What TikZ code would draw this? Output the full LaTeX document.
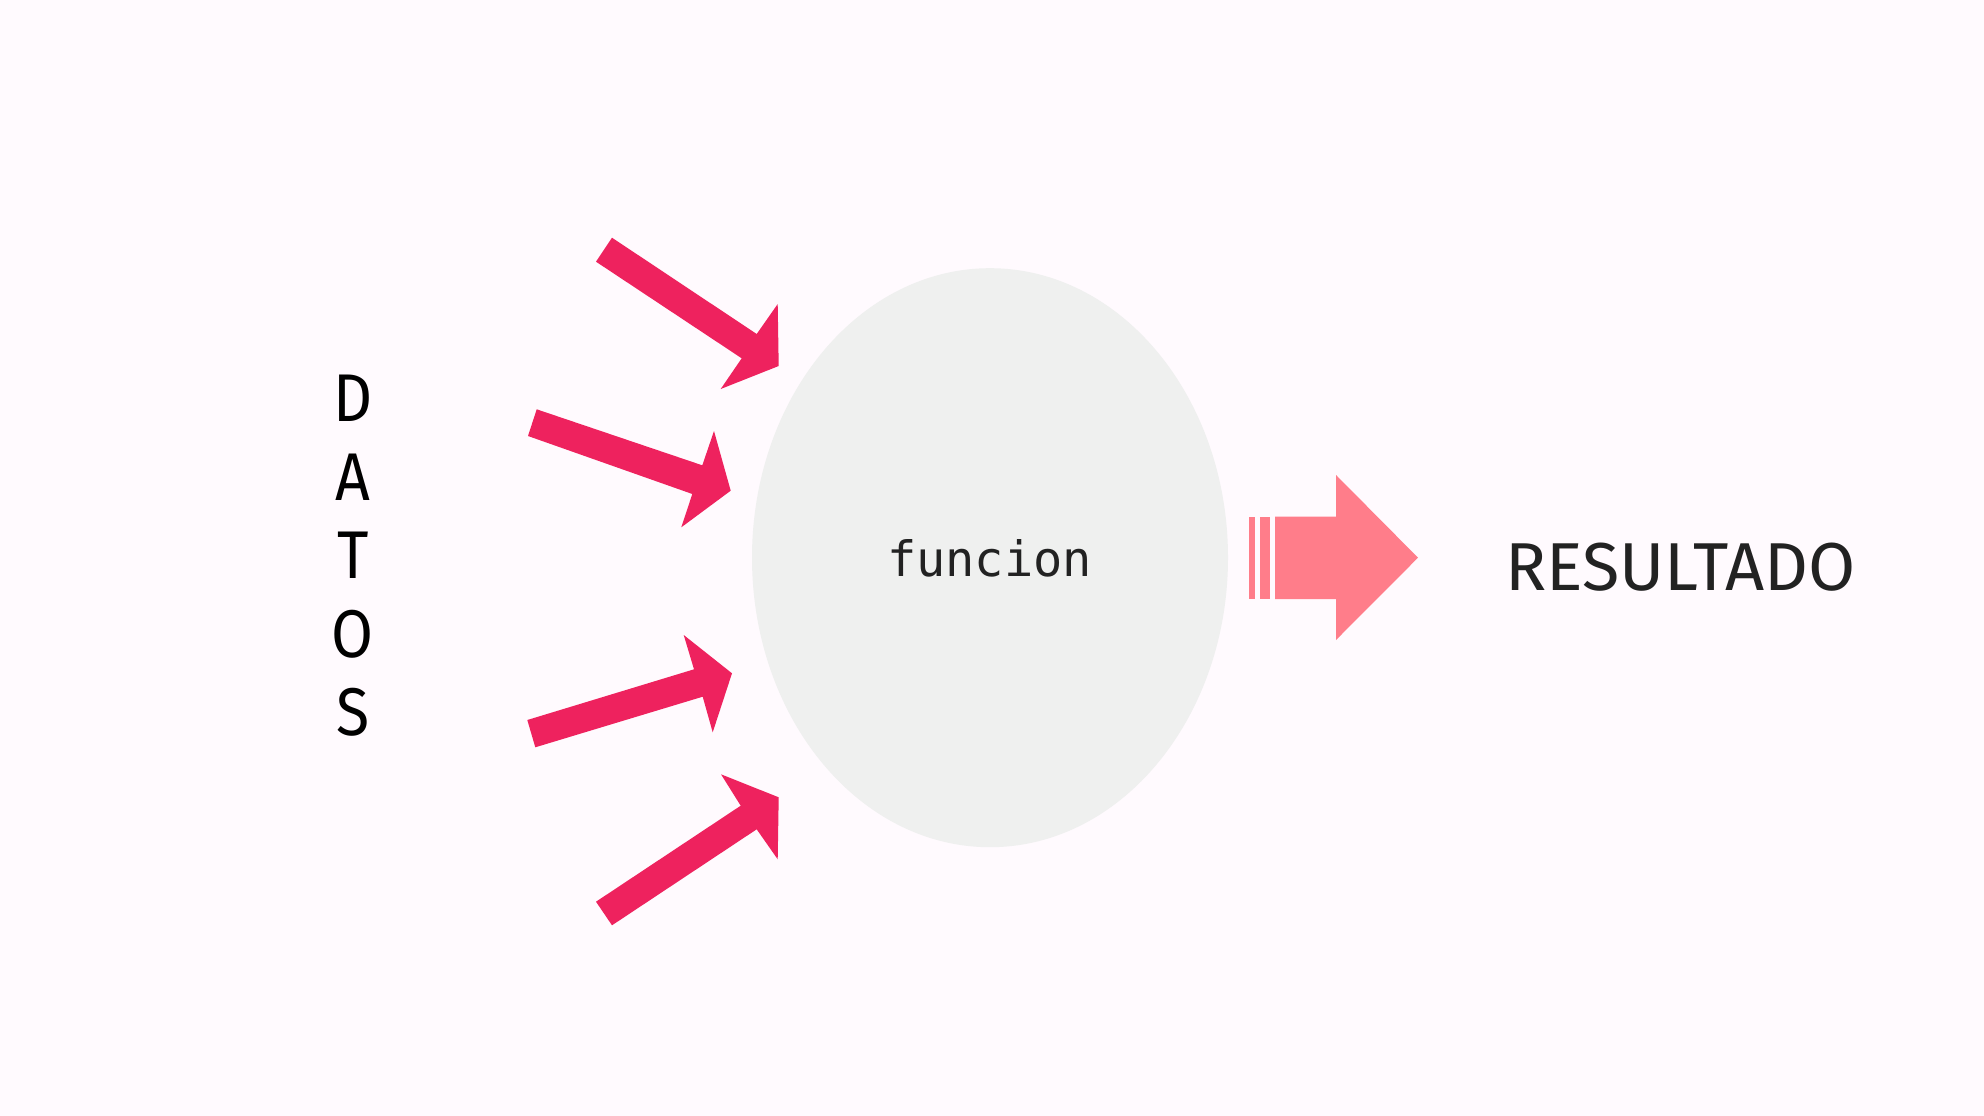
\documentclass[tikz,border=0pt]{standalone}
\usepackage{fontspec}
\newfontfamily\dinfont[FakeStretch=0.9]{Fira Sans}
\newfontfamily\monofont{DejaVu Sans Mono}
\usetikzlibrary{shapes.geometric}
\definecolor{bg}{RGB}{255,250,254}
\definecolor{ellgray}{RGB}{239,240,239}
\definecolor{redarrow}{RGB}{238,34,94}
\definecolor{pinkarrow}{RGB}{255,125,138}
\definecolor{darktext}{RGB}{34,34,34}
\tikzset{
  inarrow/.style={fill=redarrow},
  outarrow/.style={fill=pinkarrow},
  letter/.style={inner sep=0pt, anchor=base, text=black,
    font=\dinfont\fontsize{67.5}{78}\selectfont}
}
\begin{document}
\begin{tikzpicture}[x=1pt,y=-1pt]
\fill[bg] (0,0) rectangle (1984,1116);
\useasboundingbox (0,0) rectangle (1984,1116);
% central ellipse
\node[ellipse, fill=ellgray, minimum width=476pt, minimum height=579pt, inner sep=0pt] (func) at (990,557.7) {};
\node[inner sep=0pt, anchor=base, text=darktext] (ftxt) at (989.5,576) {\resizebox{205pt}{37pt}{\monofont funcion}};
% DATOS
\foreach \ch [count=\i from 0] in {D,A,T,O,S}{
  \node[letter] (L\i) at (353,{421.7+78.5*\i}) {\ch};
}
% incoming arrows
\fill[inarrow] (612,237.7)--(756.7,334)--(777.7,304)--(778.7,366)--(720.7,389)--(741.7,358.3)--(596,261.7)--cycle;
\fill[inarrow] (536.7,409.3)--(702.3,465.3)--(714,431)--(730.7,490.7)--(681.3,527.3)--(692.3,494)--(528,436)--cycle;
\fill[inarrow] (527.3,720)--(694,669.3)--(683.7,635)--(732,673.3)--(712.7,732.3)--(702.7,696.7)--(535.3,747.3)--cycle;
\fill[inarrow] (596,901.7)--(740.7,805.7)--(721,774.3)--(778.7,797.3)--(777.7,859.3)--(756.7,829.3)--(612,925.3)--cycle;
% outgoing arrow
\fill[outarrow] (1249.3,516.7) rectangle (1254.7,599);
\fill[outarrow] (1259.7,516.7) rectangle (1270.3,599);
\fill[outarrow] (1275,516.7)--(1336,516.7)--(1336,475)--(1418,557.7)--(1336,640)--(1336,599)--(1275,599)--cycle;
% result
\node[inner sep=0pt, anchor=base west, text=darktext] (res) at (1505,590) {\resizebox{350pt}{47.5pt}{\dinfont RESULTADO}};
\end{tikzpicture}
\end{document}
